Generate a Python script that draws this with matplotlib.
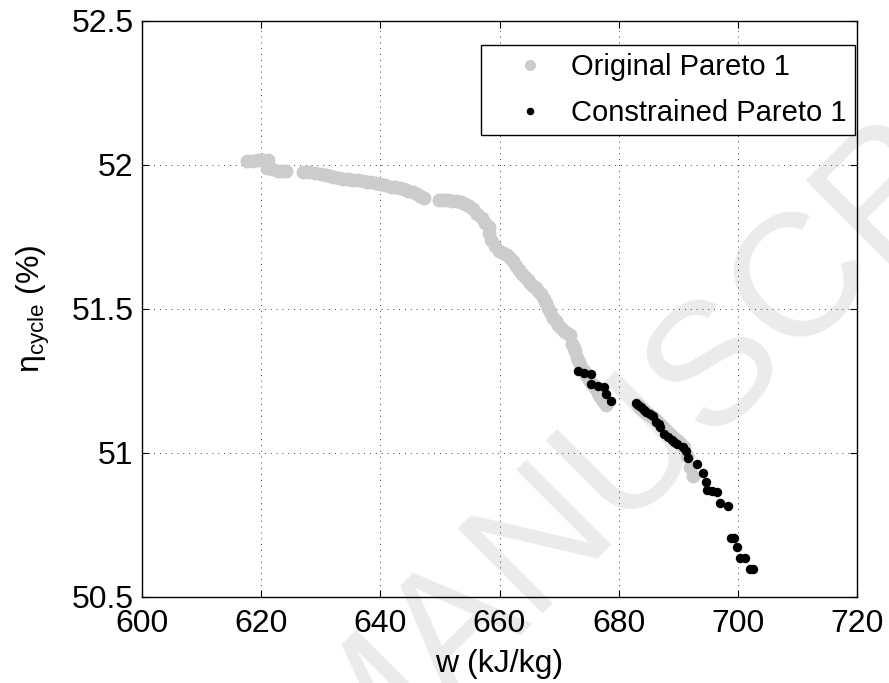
import matplotlib
matplotlib.use("Agg")
import matplotlib.pyplot as plt

plt.rcParams['font.family'] = ['Liberation Sans', 'DejaVu Sans']
plt.rcParams['mathtext.fontset'] = 'custom'
plt.rcParams['mathtext.rm'] = 'Liberation Sans'
plt.rcParams['mathtext.it'] = 'Liberation Sans'

# Original Pareto front (grey)
orig_w = [617.6, 618.6, 619.5, 620.3, 621.1, 620.9, 621.9, 622.8, 623.5, 624.2,
          627.1, 628.0, 629.0, 630.0, 630.9, 631.6, 632.3, 633.0, 633.7, 634.5,
          635.2, 636.2, 637.1, 637.8, 638.5, 639.2, 639.9, 640.8, 641.8, 642.5,
          643.3, 644.0, 644.7, 645.4, 646.1, 646.7, 647.3,
          649.9, 650.6, 651.3, 652.0, 652.8, 653.5, 654.2, 654.9, 655.6, 656.3,
          657.0, 657.6, 658.2, 658.3, 658.5, 659.2, 659.9, 660.6, 661.3, 661.8,
          662.3, 662.8, 663.2, 663.7, 664.2, 664.7, 665.1, 665.6, 666.1, 666.5,
          667.0, 667.4, 667.8, 668.1, 668.4, 668.9, 669.4, 669.9, 670.4, 670.8,
          671.3, 671.8, 672.2, 672.5, 672.7, 673.0, 673.4, 673.7, 674.2, 674.6,
          675.1, 675.6, 676.0, 676.5, 676.9, 677.3, 677.8,
          683.2, 683.6, 684.0, 684.5, 685.0, 685.5, 686.0, 686.5, 687.0, 687.5,
          688.0, 688.5, 689.0, 689.5, 690.0, 690.5, 691.0, 691.5, 692.0, 692.5]
orig_eta = [52.013, 52.015, 52.016, 52.016, 52.016, 51.99, 51.985, 51.98, 51.979, 51.978,
            51.975, 51.974, 51.972, 51.97, 51.967, 51.963, 51.96, 51.956, 51.952, 51.95,
            51.948, 51.947, 51.945, 51.942, 51.94, 51.937, 51.934, 51.93, 51.925, 51.922,
            51.919, 51.915, 51.91, 51.905, 51.90, 51.892, 51.884,
            51.880, 51.879, 51.877, 51.876, 51.874, 51.87, 51.865, 51.856, 51.846, 51.83,
            51.816, 51.80, 51.786, 51.765, 51.741, 51.72, 51.703, 51.695, 51.688, 51.676,
            51.665, 51.65, 51.635, 51.623, 51.612, 51.60, 51.589, 51.58, 51.574, 51.562,
            51.551, 51.536, 51.521, 51.505, 51.491, 51.468, 51.457, 51.446, 51.435, 51.423,
            51.415, 51.408, 51.377, 51.366, 51.355, 51.33, 51.315, 51.30, 51.285, 51.27,
            51.255, 51.24, 51.225, 51.21, 51.195, 51.18, 51.165,
            51.165, 51.157, 51.15, 51.142, 51.135, 51.127, 51.12, 51.11, 51.10, 51.09,
            51.08, 51.07, 51.06, 51.05, 51.04, 51.03, 51.02, 50.99, 50.95, 50.92]

# Constrained Pareto front (black)
cons_w = [673.2, 674.1, 675.3, 675.3, 676.5, 677.5, 677.8, 678.7,
          682.9, 683.3, 683.7, 684.2, 684.6, 685.2, 685.7, 686.3, 686.7, 687.0,
          687.6, 688.3, 688.9, 689.3, 689.8, 690.8, 691.3, 691.7, 693.2, 694.1,
          694.6, 694.9, 695.6, 696.5, 697.0, 698.4, 698.9, 699.4, 699.8, 700.3,
          701.2, 702.0, 702.5]
cons_eta = [51.284, 51.279, 51.275, 51.238, 51.234, 51.229, 51.204, 51.181,
            51.173, 51.165, 51.158, 51.15, 51.143, 51.135, 51.128, 51.108, 51.10, 51.09,
            51.067, 51.055, 51.045, 51.038, 51.03, 51.022, 51.007, 50.984, 50.962, 50.931,
            50.901, 50.871, 50.868, 50.866, 50.825, 50.815, 50.704, 50.704, 50.674, 50.636,
            50.636, 50.598, 50.598]

fig = plt.figure(figsize=(8.89, 6.83), dpi=100)
ax = fig.add_axes([142/889, 1-597/683, 715/889, 576/683])
ax.set_facecolor('none')

# watermark behind everything
fig.text(345/889, 1-797/683, 'MANUSCRIPT', rotation=45, rotation_mode='anchor',
         ha='left', va='baseline', fontsize=125, color='#ebebeb', zorder=-5)

ax.plot(orig_w, orig_eta, 'o', color='#cccccc', markersize=10, markeredgewidth=0,
        label='Original Pareto 1')
ax.plot(cons_w, cons_eta, 'o', color='black', markersize=6.8, markeredgewidth=0,
        label='Constrained Pareto 1')

ax.set_xlim(600, 720)
ax.set_ylim(50.5, 52.5)
ax.set_xticks([600, 620, 640, 660, 680, 700, 720])
ax.set_yticks([50.5, 51, 51.5, 52, 52.5])
ax.set_yticklabels(['50.5', '51', '51.5', '52', '52.5'])
ax.grid(True, color='black', linestyle=(0, (1, 6)), linewidth=0.6)
ax.tick_params(direction='in', top=True, right=True, labelsize=23, length=5)
ax.tick_params(axis='x', pad=9)
ax.tick_params(axis='y', pad=6)
for s in ax.spines.values():
    s.set_linewidth(1.0)

ax.set_xlabel('w (kJ/kg)', fontsize=23, labelpad=7)
ax.set_ylabel(r'$\mathrm{\eta_{cycle}}$ (%)', fontsize=23, labelpad=14)

leg = ax.legend(loc='upper right', bbox_to_anchor=(0.997, 0.958), fontsize=21,
                frameon=True, fancybox=False, edgecolor='black', framealpha=1,
                borderaxespad=0, markerscale=0.8, handlelength=2.8,
                handletextpad=0.0, labelspacing=0.6, borderpad=0.28)
leg.get_frame().set_linewidth(1.0)

fig.savefig('out.png', dpi=100)
